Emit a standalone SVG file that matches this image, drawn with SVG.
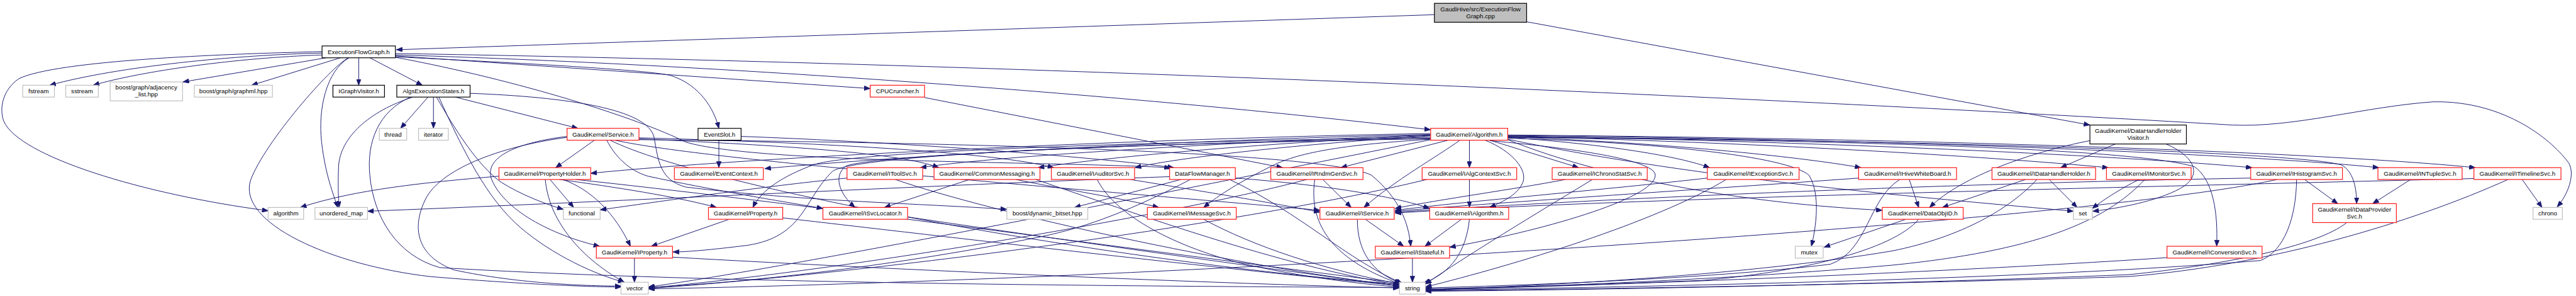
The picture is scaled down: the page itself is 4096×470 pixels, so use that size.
<svg xmlns="http://www.w3.org/2000/svg" width="4096" height="470" viewBox="0 0 4096 470">
<style>
.node rect{fill:#fff;stroke-width:1.6}
.blk rect{stroke:#000}
.red rect{stroke:#ff1a1a}
.gry rect{stroke:#bfbfbf}
.root rect{fill:#bfbfbf;stroke:#000}
.node text{font-family:"Liberation Sans",Arial,Helvetica,sans-serif;font-size:13px;fill:#000;text-anchor:middle}
#edges path{fill:none;stroke:#191970;stroke-width:1.3;marker-end:url(#arr)}
</style>
<defs>
<marker id="arr" viewBox="0 0 13 10" refX="13" refY="5" markerWidth="13" markerHeight="10" markerUnits="userSpaceOnUse" orient="auto">
<path d="M0,0 L13,5 L0,10 z" fill="#191970" stroke="#191970" stroke-width="1"/>
</marker>
</defs>
<rect x="0" y="0" width="4096" height="470" fill="#fff"/>
<g transform="scale(0.752)">
<g id="edges">
<path d="M3033,31 L838,105"/>
<path d="M3228,46 L4419,264"/>
<path d="M681,112 C500,116 250,140 105,180"/>
<path d="M681,116 C500,122 300,150 197,180"/>
<path d="M690,122 L387,173"/>
<path d="M720,122 L532,180"/>
<path d="M758.5,122 L758.5,180"/>
<path d="M782,122 L893,180"/>
<path d="M681,109 C460,114 120,128 40,166 C5,190 -2,230 8,256 C40,330 300,410 567,445"/>
<path d="M738,122 C690,150 672,230 680,300 C688,370 705,410 714,438"/>
<path d="M737,122 C700,140 560,300 530,380 C500,470 700,560 910,584 C1100,600 1250,606 1313,606"/>
<path d="M836,113 C2200,135 3800,210 4720,264 C4850,270 5000,225 5145,215 C5300,212 5400,300 5432,345 C5445,370 5430,410 5407,437"/>
<path d="M836,118 L1840,187"/>
<path d="M836,116 C1500,135 2400,200 3025,274"/>
<path d="M836,120 C1100,133 1380,148 1420,160 C1480,180 1510,230 1520,271"/>
<path d="M836,121 C1100,170 1350,250 1450,300 C1600,345 2200,340 2475,354"/>
<path d="M905,205 L847,271"/>
<path d="M916.5,205 L916.5,271"/>
<path d="M873,205 C780,235 720,290 716,350 C714,400 716,420 717,438"/>
<path d="M868,205 C800,235 775,300 782,370 C790,460 840,540 930,565 C1500,600 2500,605 2959,607"/>
<path d="M923,205 C960,270 1010,350 1060,385 C1100,410 1150,430 1191,442"/>
<path d="M928,205 C980,320 1030,420 1100,480 C1170,540 1260,580 1320,596"/>
<path d="M963,205 L1222,271"/>
<path d="M994,197 C1200,205 1370,230 1383,290 C1392,340 1395,380 1450,395 C1700,425 1950,430 2129,442"/>
<path d="M1257,296 L1175,354"/>
<path d="M1199,288 C1100,300 1020,330 1040,380 C1070,450 1180,500 1268,520"/>
<path d="M1199,290 C1050,310 930,360 900,420 C870,480 880,540 960,570 C1100,600 1250,604 1313,604"/>
<path d="M1283,296 C1300,330 1330,360 1370,372 C1500,400 1650,425 1740,440"/>
<path d="M1351,293 C1600,305 1900,320 1985,354"/>
<path d="M1351,291 C1700,300 2100,320 2228,354"/>
<path d="M1300,296 C1500,340 2300,400 2791,444"/>
<path d="M1290,296 C1500,400 2400,560 2959,600"/>
<path d="M1351,295 C2000,300 2800,320 2900,370 C2960,420 2978,470 2983,520"/>
<path d="M1055,372 C900,385 750,400 635,438"/>
<path d="M1163,379 L1213,438"/>
<path d="M1183,379 C1300,395 1430,415 1515,438"/>
<path d="M1190,379 C1250,400 1300,450 1333,520"/>
<path d="M1153,379 C1160,460 1220,540 1320,596"/>
<path d="M1217,379 C1700,430 2500,540 2962,598"/>
<path d="M1520,296 L1520,354"/>
<path d="M1567,288 C1900,300 2300,330 2482,354"/>
<path d="M3025,282 C2500,290 1600,330 1249,366"/>
<path d="M3025,284 C2500,295 1900,330 1617,356"/>
<path d="M3025,285 C2600,300 2100,330 1946,354"/>
<path d="M3025,286 C2700,300 2350,330 2195,354"/>
<path d="M3025,287 C2800,300 2500,330 2400,354"/>
<path d="M3062,296 L2835,354"/>
<path d="M3107,296 L3107,354"/>
<path d="M3150,296 L3338,354"/>
<path d="M3188,290 C3400,305 3550,330 3615,354"/>
<path d="M3188,289 C3500,300 3800,330 3935,354"/>
<path d="M3188,288 C3700,300 4200,330 4458,354"/>
<path d="M3188,287 C3900,300 4500,330 4762,354"/>
<path d="M3188,286 C4100,295 4800,330 5030,354"/>
<path d="M3188,285 C4300,295 5000,330 5234,354"/>
<path d="M3025,290 C2400,300 1800,320 1720,348 C1660,370 1610,400 1592,438"/>
<path d="M3025,292 C2300,305 1800,330 1760,362 C1700,420 1700,500 1580,518 C1500,528 1450,532 1423,532"/>
<path d="M3025,293 C2300,305 1850,330 1790,350 C1760,370 1775,410 1808,438"/>
<path d="M3025,294 C2850,305 2750,320 2690,350 C2620,385 2580,410 2545,438"/>
<path d="M3087,296 C3040,330 2950,380 2884,438"/>
<path d="M3140,296 C3200,320 3230,360 3220,385 C3210,410 3180,425 3150,438"/>
<path d="M3150,297 C3350,315 3500,340 3500,370 C3500,420 3250,490 3065,522"/>
<path d="M3188,292 C3500,300 3780,330 3825,370 C3850,410 3840,480 3830,520"/>
<path d="M3188,290 C3800,295 4500,310 4640,352 C4680,380 4690,450 4687,520"/>
<path d="M3188,289 C4000,295 4850,320 4950,348 C4975,360 4983,395 4983,430"/>
<path d="M3188,295 C3400,380 3700,430 3980,444"/>
<path d="M3188,294 C3600,380 4100,420 4384,446"/>
<path d="M3025,295 C2500,400 1700,560 1371,606"/>
<path d="M3107,379 L3107,438"/>
<path d="M3017,379 C2600,480 1800,580 1371,609"/>
<path d="M2797,379 L2857,438"/>
<path d="M2780,379 C2770,450 2790,540 2962,600"/>
<path d="M2763,379 C2500,450 1800,570 1371,608"/>
<path d="M1955,206 L2712,354"/>
<path d="M1791,376 C1600,395 1400,425 1269,443"/>
<path d="M1893,379 C2100,450 2600,560 2960,604"/>
<path d="M2050,379 L1870,438"/>
<path d="M2148,379 C2250,400 2380,420 2450,438"/>
<path d="M2190,379 C2400,450 2700,560 2960,602"/>
<path d="M2390,379 C2550,405 2700,430 2791,448"/>
<path d="M2320,379 C2350,440 2450,510 2620,555 C2750,585 2880,600 2959,606"/>
<path d="M2473,373 C2000,390 1200,430 777,446"/>
<path d="M2497,379 L2272,438"/>
<path d="M2517,379 C2400,440 2300,480 2200,500 C1900,560 1600,595 1371,607"/>
<path d="M2600,379 C2750,450 2850,550 2965,598"/>
<path d="M2612,376 C2800,390 2950,415 3023,440"/>
<path d="M3310,379 C3200,400 3050,420 2950,440"/>
<path d="M3367,379 C3250,450 3100,540 3014,600"/>
<path d="M3610,376 C3400,400 3100,425 2950,444"/>
<path d="M3650,379 C3500,470 3200,560 3014,606"/>
<path d="M4037,379 L4057,438"/>
<path d="M4017,379 C3950,420 3950,530 3870,558 C3600,590 3200,603 3014,608"/>
<path d="M3930,376 C3600,400 3200,425 2950,446"/>
<path d="M4030,463 L3857,522"/>
<path d="M4057,463 C4000,530 3800,575 3600,592 C3300,604 3100,608 3014,610"/>
<path d="M4283,379 L4107,438"/>
<path d="M4333,379 L4392,438"/>
<path d="M4307,379 C4250,440 4150,500 4000,530 C3700,580 3300,602 3014,612"/>
<path d="M4419,297 C4300,320 4150,370 4080,438"/>
<path d="M4473,304 L4357,354"/>
<path d="M4580,304 C4640,330 4660,370 4610,398 C4560,425 4480,440 4425,446"/>
<path d="M4523,379 C4490,395 4450,420 4424,440"/>
<path d="M4535,379 C4450,470 4300,530 4000,560 C3600,595 3200,606 3014,612"/>
<path d="M4873,379 L4943,430"/>
<path d="M4856,379 C4855,460 4830,530 4780,550 C4300,590 3500,605 3014,613"/>
<path d="M4759,376 C4000,390 3300,425 2950,448"/>
<path d="M4815,379 C4400,470 2500,590 1371,610"/>
<path d="M5097,379 L5017,430"/>
<path d="M5333,379 L5375,438"/>
<path d="M5303,379 C5100,470 4800,560 4500,584 C4000,600 3400,610 3014,614"/>
<path d="M5231,377 C4500,395 3400,420 2950,450"/>
<path d="M4962,470 C4900,520 4700,560 4500,580 C4000,600 3400,612 3014,615"/>
<path d="M4582,544 C4200,570 3500,600 3014,612"/>
<path d="M1542,463 L1377,520"/>
<path d="M1655,460 C2000,500 2600,570 2959,603"/>
<path d="M1919,458 C2200,500 2700,570 2959,604"/>
<path d="M2545,463 C2650,520 2800,570 2962,600"/>
<path d="M2887,463 L2968,520"/>
<path d="M2870,463 C2870,530 2900,575 2962,598"/>
<path d="M3090,463 L3013,520"/>
<path d="M3107,463 C3100,530 3070,575 3010,598"/>
<path d="M2986.5,545 L2986.5,596"/>
<path d="M1341.5,545 L1341.5,596"/>
<path d="M1422,543 C1900,570 2600,600 2959,608"/>
</g>
<g id="n_root" class="node root"><rect x="3033" y="7" width="195" height="40"/><text x="3130.5" y="23.5">GaudiHive/src/ExecutionFlow</text><text x="3130.5" y="38">Graph.cpp</text></g>
<g id="n_efg" class="node blk"><rect x="681" y="97" width="155" height="25"/><text x="758.5" y="114">ExecutionFlowGraph.h</text></g>
<g id="n_fstream" class="node gry"><rect x="48" y="180" width="67" height="25"/><text x="81.5" y="197">fstream</text></g>
<g id="n_sstream" class="node gry"><rect x="139" y="180" width="69" height="25"/><text x="173.5" y="197">sstream</text></g>
<g id="n_adj" class="node gry"><rect x="233" y="173" width="153" height="40"/><text x="309.5" y="189">boost/graph/adjacency</text><text x="309.5" y="204">_list.hpp</text></g>
<g id="n_graphml" class="node gry"><rect x="411" y="180" width="165" height="25"/><text x="493.5" y="197">boost/graph/graphml.hpp</text></g>
<g id="n_igv" class="node blk"><rect x="704" y="180" width="109" height="25"/><text x="758.5" y="197">IGraphVisitor.h</text></g>
<g id="n_aes" class="node blk"><rect x="839" y="180" width="155" height="25"/><text x="916.5" y="197">AlgsExecutionStates.h</text></g>
<g id="n_cpu" class="node red"><rect x="1840" y="180" width="115" height="25"/><text x="1897.5" y="197">CPUCruncher.h</text></g>
<g id="n_thread" class="node gry"><rect x="802" y="271" width="58" height="25"/><text x="831" y="288">thread</text></g>
<g id="n_iterator" class="node gry"><rect x="885" y="271" width="63" height="25"/><text x="916.5" y="288">iterator</text></g>
<g id="n_service" class="node red"><rect x="1199" y="271" width="152" height="25"/><text x="1275" y="288">GaudiKernel/Service.h</text></g>
<g id="n_eventslot" class="node blk"><rect x="1476" y="271" width="91" height="25"/><text x="1521.5" y="288">EventSlot.h</text></g>
<g id="n_algorithm_h" class="node red"><rect x="3025" y="271" width="163" height="25"/><text x="3106.5" y="288">GaudiKernel/Algorithm.h</text></g>
<g id="n_dhhv" class="node blk"><rect x="4419" y="264" width="204" height="40"/><text x="4521" y="280.5">GaudiKernel/DataHandleHolder</text><text x="4521" y="295">Visitor.h</text></g>
<g id="n_propholder" class="node red"><rect x="1055" y="354" width="194" height="25"/><text x="1152" y="371">GaudiKernel/PropertyHolder.h</text></g>
<g id="n_evctx" class="node red"><rect x="1426" y="354" width="188" height="25"/><text x="1520" y="371">GaudiKernel/EventContext.h</text></g>
<g id="n_itoolsvc" class="node red"><rect x="1791" y="354" width="160" height="25"/><text x="1871" y="371">GaudiKernel/IToolSvc.h</text></g>
<g id="n_commsg" class="node red"><rect x="1975" y="354" width="224" height="25"/><text x="2087" y="371">GaudiKernel/CommonMessaging.h</text></g>
<g id="n_iauditor" class="node red"><rect x="2223" y="354" width="176" height="25"/><text x="2311" y="371">GaudiKernel/IAuditorSvc.h</text></g>
<g id="n_dfm" class="node red"><rect x="2473" y="354" width="139" height="25"/><text x="2542.5" y="371">DataFlowManager.h</text></g>
<g id="n_irndm" class="node red"><rect x="2687" y="354" width="195" height="25"/><text x="2784.5" y="371">GaudiKernel/IRndmGenSvc.h</text></g>
<g id="n_ialgctx" class="node red"><rect x="3007" y="354" width="200" height="25"/><text x="3107" y="371">GaudiKernel/IAlgContextSvc.h</text></g>
<g id="n_ichrono" class="node red"><rect x="3282" y="354" width="201" height="25"/><text x="3382.5" y="371">GaudiKernel/IChronoStatSvc.h</text></g>
<g id="n_iexc" class="node red"><rect x="3610" y="354" width="194" height="25"/><text x="3707" y="371">GaudiKernel/IExceptionSvc.h</text></g>
<g id="n_ihive" class="node red"><rect x="3930" y="354" width="207" height="25"/><text x="4033.5" y="371">GaudiKernel/IHiveWhiteBoard.h</text></g>
<g id="n_idhh" class="node red"><rect x="4212" y="354" width="219" height="25"/><text x="4321.5" y="371">GaudiKernel/IDataHandleHolder.h</text></g>
<g id="n_imon" class="node red"><rect x="4454" y="354" width="179" height="25"/><text x="4543.5" y="371">GaudiKernel/IMonitorSvc.h</text></g>
<g id="n_ihist" class="node red"><rect x="4759" y="354" width="194" height="25"/><text x="4856" y="371">GaudiKernel/IHistogramSvc.h</text></g>
<g id="n_intuple" class="node red"><rect x="5028" y="354" width="178" height="25"/><text x="5117" y="371">GaudiKernel/INTupleSvc.h</text></g>
<g id="n_itimeline" class="node red"><rect x="5231" y="354" width="184" height="25"/><text x="5323" y="371">GaudiKernel/ITimelineSvc.h</text></g>
<g id="n_stdalgorithm" class="node gry"><rect x="567" y="438" width="75" height="25"/><text x="604.5" y="455">algorithm</text></g>
<g id="n_umap" class="node gry"><rect x="666" y="438" width="111" height="25"/><text x="721.5" y="455">unordered_map</text></g>
<g id="n_functional" class="node gry"><rect x="1191" y="438" width="78" height="25"/><text x="1230" y="455">functional</text></g>
<g id="n_property" class="node red"><rect x="1498" y="438" width="157" height="25"/><text x="1576.5" y="455">GaudiKernel/Property.h</text></g>
<g id="n_isvcloc" class="node red"><rect x="1740" y="438" width="179" height="25"/><text x="1829.5" y="455">GaudiKernel/ISvcLocator.h</text></g>
<g id="n_bitset" class="node gry"><rect x="2129" y="438" width="171" height="25"/><text x="2214.5" y="455">boost/dynamic_bitset.hpp</text></g>
<g id="n_imsg" class="node red"><rect x="2426" y="438" width="188" height="25"/><text x="2520" y="455">GaudiKernel/IMessageSvc.h</text></g>
<g id="n_iservice" class="node red"><rect x="2791" y="438" width="157" height="25"/><text x="2869.5" y="455">GaudiKernel/IService.h</text></g>
<g id="n_ialg" class="node red"><rect x="3023" y="438" width="167" height="25"/><text x="3106.5" y="455">GaudiKernel/IAlgorithm.h</text></g>
<g id="n_dataobjid" class="node red"><rect x="3980" y="438" width="171" height="25"/><text x="4065.5" y="455">GaudiKernel/DataObjID.h</text></g>
<g id="n_set" class="node gry"><rect x="4384" y="438" width="40" height="25"/><text x="4404" y="455">set</text></g>
<g id="n_idps" class="node red"><rect x="4890" y="430" width="177" height="40"/><text x="4978.5" y="446.5">GaudiKernel/IDataProvider</text><text x="4978.5" y="461">Svc.h</text></g>
<g id="n_chrono" class="node gry"><rect x="5356" y="438" width="62" height="25"/><text x="5387" y="455">chrono</text></g>
<g id="n_iproperty" class="node red"><rect x="1261" y="520" width="161" height="25"/><text x="1341.5" y="537">GaudiKernel/IProperty.h</text></g>
<g id="n_istateful" class="node red"><rect x="2908" y="520" width="157" height="25"/><text x="2986.5" y="537">GaudiKernel/IStateful.h</text></g>
<g id="n_mutex" class="node gry"><rect x="3796" y="520" width="59" height="25"/><text x="3825.5" y="537">mutex</text></g>
<g id="n_iconv" class="node red"><rect x="4582" y="520" width="201" height="25"/><text x="4682.5" y="537">GaudiKernel/IConversionSvc.h</text></g>
<g id="n_vector" class="node gry"><rect x="1313" y="596" width="58" height="25"/><text x="1342" y="613">vector</text></g>
<g id="n_string" class="node gry"><rect x="2959" y="596" width="55" height="25"/><text x="2986.5" y="613">string</text></g>
</g>
</svg>
